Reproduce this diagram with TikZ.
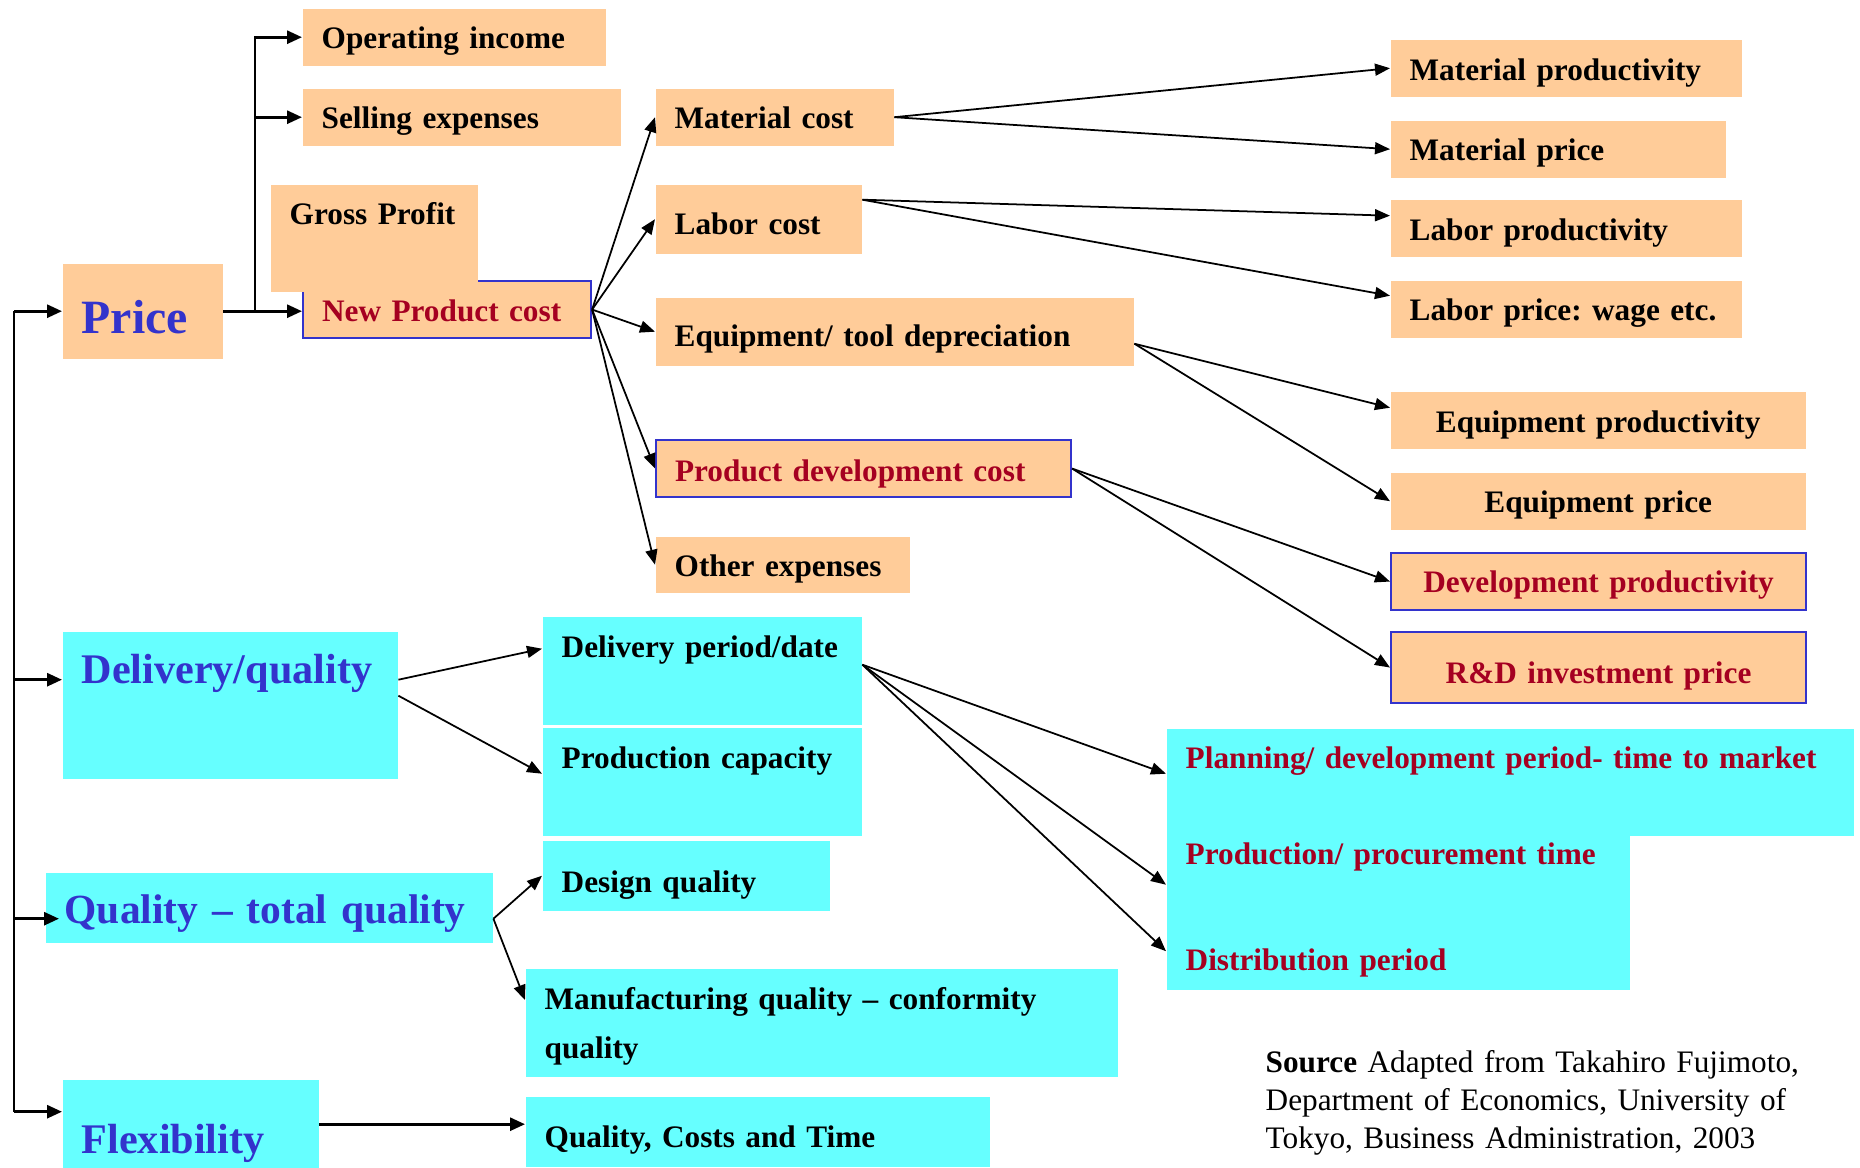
\documentclass[tikz,border=0pt]{standalone}
\usepackage{fontspec}
\setmainfont{Liberation Serif}
\usetikzlibrary{arrows.meta}
\definecolor{peach}{RGB}{255,204,153}
\definecolor{aqua}{RGB}{102,255,255}
\definecolor{ink}{RGB}{51,51,204}
\definecolor{wine}{RGB}{165,0,33}
\hyphenpenalty=10000
\exhyphenpenalty=10000

\begin{document}
\begin{tikzpicture}[x=0.1mm,y=-0.1mm,
    box/.style={anchor=north west,inner xsep=1.9mm,inner ysep=0pt,align=left,
      font=\fontsize{8.9}{13.9}\selectfont\bfseries},
    cost/.style={box,fill=peach},
    perf/.style={box,fill=aqua},
    key/.style={text=ink,font=\fontsize{12}{14}\selectfont\bfseries},
    new/.style={draw=ink,line width=0.6pt,text=wine},
    link/.style={-{Triangle[length=1.5mm,width=1.2mm]},line width=0.5pt},
    trunk/.style={-{Triangle[length=1.5mm,width=1.3mm]},line width=0.8pt}]
    \useasboundingbox (0,0) rectangle (1860,1168);

    % price side
    \node[cost,text width=26.5mm,text height=4mm,text depth=1.7mm] (opinc) at (302,8) {Operating income};
    \node[cost,text width=28mm,text height=4mm,text depth=1.7mm] (sellexp) at (302,88) {Selling expenses};
    \node[cost,new,text width=25mm,text height=4mm,text depth=1.7mm] (npc) at (302,280) {New~Product~cost};
    \node[cost,text width=16.9mm,text height=4mm,text depth=6.7mm] (gross) at (270,184) {Gross~Profit};
    \node[cost,key,font=\fontsize{13.6}{15}\selectfont\bfseries,text width=12.2mm,text height=7mm,text depth=2.5mm] (price) at (62,263) {Price};
    \node[cost,text width=20mm,text height=4mm,text depth=1.7mm] (matcost) at (655,88) {Material cost};
    \node[cost,text width=16.8mm,text height=5mm,text depth=1.9mm] (labcost) at (655,184) {Labor cost};
    \node[cost,text width=44mm,text height=4.9mm,text depth=1.9mm] (equip) at (655,297) {Equipment/ tool depreciation};
    \node[cost,new,text width=37.7mm,text height=4.1mm,text depth=1.6mm] (pdev) at (655,439) {Product development cost};
    \node[cost,text width=21.6mm,text height=4mm,text depth=1.6mm] (other) at (655,536) {Other~expenses};
    \node[cost,text width=31.3mm,text height=4.1mm,text depth=1.6mm] (matprod) at (1390,39) {Material productivity};
    \node[cost,text width=29.7mm,text height=4mm,text depth=1.7mm] (matprice) at (1390,120) {Material price};
    \node[cost,text width=31.3mm,text height=4.1mm,text depth=1.6mm] (labprod) at (1390,199) {Labor productivity};
    \node[cost,text width=31.3mm,text height=4mm,text depth=1.7mm] (labprice) at (1390,280) {Labor~price:~wage~etc.};
    \node[cost,align=center,text width=37.7mm,text height=4.1mm,text depth=1.6mm] (eqprod) at (1390,391) {Equipment productivity};
    \node[cost,align=center,text width=37.7mm,text height=4mm,text depth=1.7mm] (eqprice) at (1390,472) {Equipment price};
    \node[cost,new,align=center,text width=37.7mm,text height=3.9mm,text depth=1.8mm] (devprod) at (1390,552) {Development productivity};
    \node[cost,new,align=center,text width=37.7mm,text height=5.1mm,text depth=2mm] (rdprice) at (1390,631) {R\&D investment price};

    % delivery, quality, flexibility
    \node[perf,key,text width=29.7mm,text height=5.2mm,text depth=9.5mm] (delq) at (62,631) {Delivery/quality};
    \node[perf,text width=28.1mm,text height=4.1mm,text depth=6.7mm] (delper) at (542,616) {Delivery~period/date};
    \node[perf,text width=28.1mm,text height=4.1mm,text depth=6.7mm] (prodcap) at (542,727) {Production~capacity};
    \node[perf,text width=24.9mm,text height=5.2mm,text depth=1.8mm] (desq) at (542,840) {Design quality};
    \node[perf,key,font=\fontsize{11.8}{14}\selectfont\bfseries,text width=40.9mm,text height=5.1mm,text depth=1.9mm] (qual) at (45,872) {Quality – total quality};
    \node[perf,text width=55.4mm,text height=4.1mm,text depth=6.7mm] (manq) at (525,968) {Manufacturing quality – conformity\\quality};
    \node[perf,key,text width=21.8mm,text height=7.4mm,text depth=1.5mm] (flex) at (62,1079) {Flexibility};
    \node[perf,text width=42.6mm,text height=5.1mm,text depth=1.9mm] (qct) at (525,1096) {Quality, Costs and Time};
    \node[perf,text=wine,text width=64.9mm,text height=4mm,text depth=6.7mm] (plan) at (1166,728) {Planning/ development period- time to market};
    \node[perf,text=wine,text width=42.5mm,text height=2.9mm,text depth=4.8mm] (ptime) at (1166,835) {Production/~procurement~time};
    \node[perf,text=wine,text width=42.5mm,text height=5.8mm,text depth=1.9mm] (dist) at (1166,912) {Distribution period};

    \node[anchor=north west,inner sep=0pt,align=left,text width=60mm,text height=3mm,
      font=\fontsize{8.9}{10.8}\selectfont] (src) at (1265,1042)
      {\textbf{Source} Adapted from Takahiro Fujimoto,\\Department of Economics, University of\\Tokyo, Business Administration, 2003};

    % spine on the left and the fork above price
    \coordinate (spine) at (14,0);
    \coordinate (fork) at (255,0);
    \path ([yshift=2.55mm]delq.west) coordinate (delq-in)
        ([xshift=1.4mm,yshift=-1.1mm]qual.west) coordinate (qual-in)
        ([yshift=1.25mm]flex.west) coordinate (flex-in);
    \draw[line width=0.8pt] (spine |- price.west) -- (spine |- flex-in);
    \foreach \n in {price.west,delq-in,qual-in,flex-in}
        \draw[trunk] (spine |- \n) -- (\n);
    \draw[trunk] (price.east) -- (price.east -| npc.west);
    \draw[trunk] (fork |- price.east) |- (opinc.west);
    \draw[trunk] (fork |- sellexp.west) -- (sellexp.west);

    \foreach \t in {matcost,labcost,equip,pdev,other}
        \draw[link] (npc.east) -- (\t.west);
    \draw[link] (matcost.east) -- (matprod.west);
    \draw[link] (matcost.east) -- (matprice.west);
    \draw[link] ([yshift=1.95mm]labcost.east) -- ([yshift=1.25mm]labprod.west);
    \draw[link] ([yshift=1.95mm]labcost.east) -- ([yshift=1.35mm]labprice.west);
    \draw[link] ([yshift=-1.2mm]equip.east) -- ([yshift=1.25mm]eqprod.west);
    \draw[link] ([yshift=-1.2mm]equip.east) -- (eqprice.west);
    \draw[link] (pdev.east) -- (devprod.west);
    \draw[link] (pdev.east) -- (rdprice.west);
    \draw[link] ([yshift=2.55mm]delq.east) -- ([yshift=2.2mm]delper.west);
    \draw[link] ([yshift=0.95mm]delq.east) -- ([yshift=0.8mm]prodcap.west);
    \foreach \t/\s in {plan/0.85,ptime/-1.05,dist/0}
        \draw[link] ([yshift=0.6mm]delper.east) -- ([yshift=\s mm]\t.west);
    \draw[link] ([yshift=-1.1mm]qual.east) -- (desq.west);
    \draw[link] ([yshift=-1.1mm]qual.east) -- ([yshift=-3.2mm]manq.north west);
    \draw[trunk] (flex.east) -- (flex.east -| qct.west);
\end{tikzpicture}
\end{document}
